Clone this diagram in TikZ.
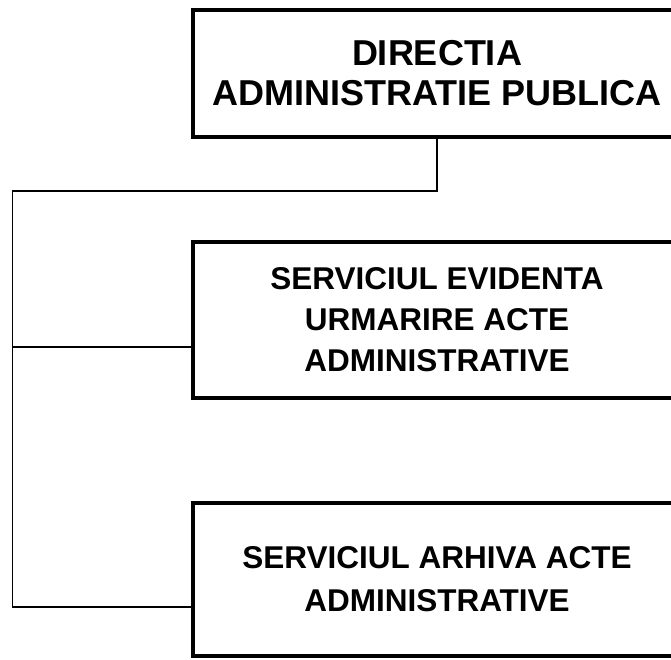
\documentclass[tikz,border=0pt]{standalone}
\usepackage{fontspec}
\setmainfont{Liberation Sans}
\begin{document}
\begin{tikzpicture}[x=1pt,y=-1pt,
	box/.style={rectangle, draw, line width=3.5pt, minimum width=488pt, align=center, font=\bfseries},
	link/.style={draw, line width=1.8pt}]
	\useasboundingbox (0,0) rectangle (671,660);
	\clip (0,0) rectangle (671,660);
	\node (DAP) at (437, 73.5)	[box, minimum height=127pt, font=\bfseries\fontsize{36}{40}\selectfont]	{DIRECTIA\\ADMINISTRATIE PUBLICA};
	\node (SEU) at (437, 320)	[box, minimum height=156pt, font=\bfseries\fontsize{31.5}{41}\selectfont]	{SERVICIUL EVIDENTA\\URMARIRE ACTE\\ADMINISTRATIVE};
	\node (SAA) at (437, 579.5)	[box, minimum height=153pt, font=\bfseries\fontsize{31.5}{43}\selectfont]	{SERVICIUL ARHIVA ACTE\\ADMINISTRATIVE};
	\coordinate (J1) at (12.5, 191);
	\coordinate (J2) at (12.5, 347);
	\coordinate (J3) at (12.5, 607);
	\draw[link] (DAP.south) |- (J1) -- (J3) -- (J3 -| SAA.west);
	\draw[link] (J2) -- (J2 -| SEU.west);
\end{tikzpicture}
\end{document}
